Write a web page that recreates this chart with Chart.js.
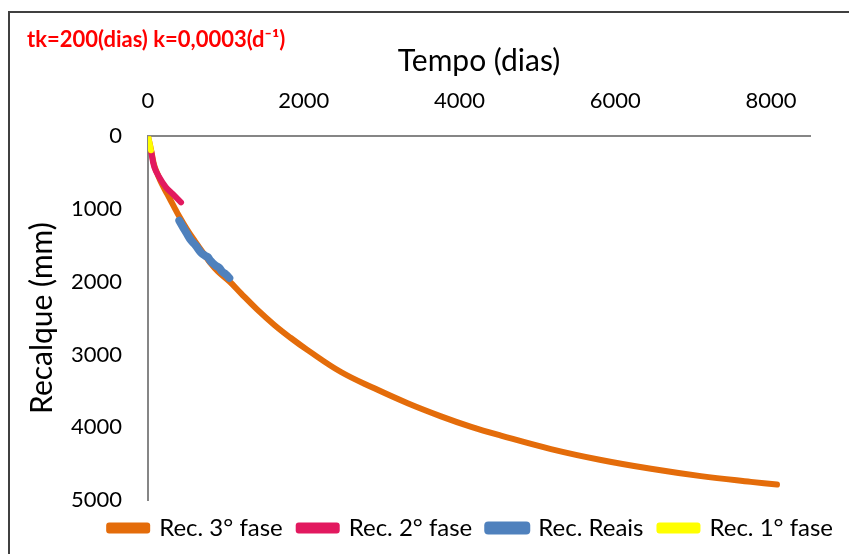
<!DOCTYPE html>
<html>
<head>
<meta charset="utf-8">
<script src="https://cdn.jsdelivr.net/npm/chart.js@4/dist/chart.umd.min.js"></script>
<style>
  body { margin: 0; background: #fff; }
  #wrap { width: 849px; height: 554px; }
</style>
</head>
<body>
<div id="wrap"><canvas id="recalque" width="849" height="554"></canvas></div>
<script>
// Dados (tempo em dias, recalque em mm)
const seriesNames = ["Rec. 3° fase", "Rec. 2° fase", "Rec. Reais", "Rec. 1° fase"];

const fase3Tempo = [0, 40, 80, 130, 180, 250, 330, 400, 500, 600, 700, 800, 900, 1044, 1194, 1400, 1622, 1830, 2050, 2478, 2906, 3334, 3762, 4150, 4532, 5174, 5816, 6458, 7100, 7742, 8076];
const fase3Recalque = [0, 190, 400, 540, 660, 800, 960, 1100, 1280, 1440, 1590, 1740, 1860, 1994, 2160, 2380, 2594, 2770, 2940, 3241, 3465, 3670, 3850, 3995, 4115, 4300, 4450, 4571, 4672, 4751, 4788];

const fase2Tempo = [38, 81, 145, 231, 317, 424];
const fase2Recalque = [194, 425, 563, 702, 794, 910];

const reaisTempo = [402, 450, 500, 552, 610, 680, 730, 766, 800, 831, 870, 916, 950, 1000, 1044];
const reaisRecalque = [1163, 1250, 1340, 1430, 1500, 1600, 1640, 1660, 1710, 1745, 1780, 1810, 1860, 1900, 1948];

const fase1Tempo = [0, 20, 38];
const fase1Recalque = [0, 100, 194];

const xTicks = [0, 2000, 4000, 6000, 8000];
const yTicks = [0, 1000, 2000, 3000, 4000, 5000];

// juntar tempo e recalque em pontos
function toPoints(tempo, recalque) {
    return tempo.map((t, i) => ({ x: t, y: recalque[i] }));
}

const fonte = "Lato, 'Open Sans', sans-serif";

// moldura e fundo
const moldura = {
    id: "moldura",
    beforeDraw(chart) {
        const ctx = chart.ctx;
        ctx.save();
        ctx.fillStyle = "#fff";
        ctx.fillRect(0, 0, chart.width, chart.height);
        ctx.strokeStyle = "#404040";
        ctx.lineWidth = 2;
        ctx.strokeRect(9, 12, chart.width + 20, chart.height + 20);
        ctx.restore();
    }
};

new Chart(document.getElementById("recalque"), {
    type: "line",
    data: {
        datasets: [
            {
                label: seriesNames[0],
                data: toPoints(fase3Tempo, fase3Recalque),
                borderColor: "#E46C0A",
                backgroundColor: "#E46C0A",
                borderWidth: 6,
                order: 4
            },
            {
                label: seriesNames[1],
                data: toPoints(fase2Tempo, fase2Recalque),
                borderColor: "#E2195F",
                backgroundColor: "#E2195F",
                borderWidth: 6,
                order: 3
            },
            {
                label: seriesNames[2],
                data: toPoints(reaisTempo, reaisRecalque),
                borderColor: "#4F81BD",
                backgroundColor: "#4F81BD",
                borderWidth: 8,
                order: 2
            },
            {
                label: seriesNames[3],
                data: toPoints(fase1Tempo, fase1Recalque),
                borderColor: "#FFFF00",
                backgroundColor: "#FFFF00",
                borderWidth: 6,
                order: 1
            }
        ]
    },
    options: {
        responsive: false,
        animation: false,
        layout: { padding: { left: 27, right: 0, top: 0, bottom: 4 } },
        elements: {
            point: { radius: 0, hoverRadius: 0 },
            line: { tension: 0.4, borderCapStyle: "round", borderJoinStyle: "round" }
        },
        scales: {
            x: {
                type: "linear",
                position: "top",
                min: 0,
                max: 8500,
                afterBuildTicks: (scale) => { scale.ticks = xTicks.map((v) => ({ value: v })); },
                afterFit: (scale) => { scale.height = 90; },
                grid: { display: false, drawTicks: false },
                border: { display: true, color: "#868686", width: 2 },
                ticks: { color: "#000", padding: 22, callback: (v) => String(v), font: { family: fonte, size: 22 } },
                title: {
                    display: true,
                    text: "Tempo (dias)",
                    color: "#000",
                    padding: { top: 0, bottom: 0 },
                    font: { family: fonte, size: 30, lineHeight: 1 }
                }
            },
            y: {
                type: "linear",
                reverse: true,
                min: 0,
                max: 5000,
                afterBuildTicks: (scale) => { scale.ticks = yTicks.map((v) => ({ value: v })); },
                afterFit: (scale) => { scale.width = 121; },
                grid: { display: false, drawTicks: false },
                border: { display: true, color: "#868686", width: 2 },
                ticks: { color: "#000", padding: 26, callback: (v) => String(v), font: { family: fonte, size: 22 } },
                title: {
                    display: true,
                    text: "Recalque (mm)",
                    color: "#000",
                    padding: { top: 0, bottom: 0 },
                    font: { family: fonte, size: 30, lineHeight: 1 }
                }
            },
            // eixo vazio só para a margem direita
            margem: {
                type: "linear",
                position: "right",
                display: true,
                afterFit: (scale) => { scale.width = 39; },
                grid: { display: false },
                border: { display: false },
                ticks: { display: false }
            }
        },
        plugins: {
            title: {
                display: true,
                text: "tk=200(dias) k=0,0003(d⁻¹)",
                align: "start",
                color: "#FF0000",
                padding: { top: 33, bottom: 0 },
                font: { family: fonte, size: 22, weight: "bold", lineHeight: 0.6 }
            },
            legend: {
                position: "bottom",
                align: "end",
                labels: {
                    sort: (a, b) => a.datasetIndex - b.datasetIndex,
                    color: "#000",
                    boxWidth: 38,
                    boxHeight: 5,
                    padding: 16,
                    font: { family: fonte, size: 24 }
                }
            },
            tooltip: { enabled: false }
        }
    },
    plugins: [moldura]
});
</script>
</body>
</html>
